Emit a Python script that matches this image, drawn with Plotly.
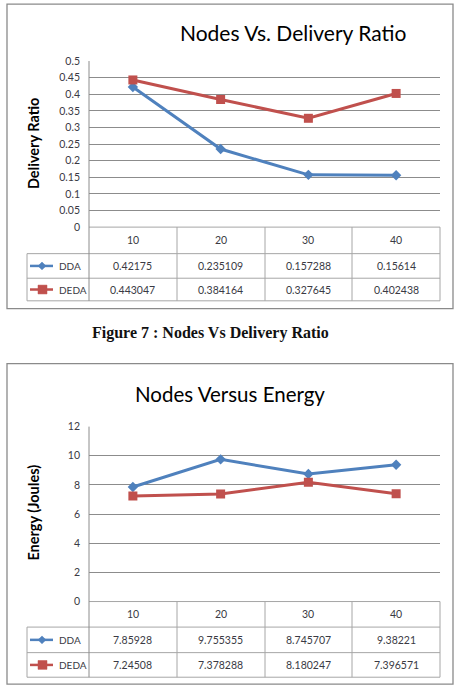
import plotly.graph_objects as go

# ---------------- data ----------------
categories = ["10", "20", "30", "40"]
series_names = ["DDA", "DEDA"]

delivery_dda = [0.42175, 0.235109, 0.157288, 0.15614]
delivery_deda = [0.443047, 0.384164, 0.327645, 0.402438]

energy_dda = [7.85928, 9.755355, 8.745707, 9.38221]
energy_deda = [7.24508, 7.378288, 8.180247, 7.396571]

title_top = "Nodes Vs. Delivery Ratio"
title_bottom = "Nodes Versus Energy"
ytitle_top = "Delivery Ratio"
ytitle_bottom = "Energy (Joules)"
caption = "Figure 7 : Nodes Vs Delivery Ratio"

yticks_top = [0, 0.05, 0.1, 0.15, 0.2, 0.25, 0.3, 0.35, 0.4, 0.45, 0.5]
yticks_bottom = [0, 2, 4, 6, 8, 10, 12]

# ---------------- layout helpers ----------------
W, H = 459, 695
BLUE = "#4F81BD"
RED = "#C0504D"
GRID = "#8c8c8c"
TBL = "#a6a6a6"
FONT = "Lato"
TXT = "#3a3a44"


def X(px):
    return px / W


def Y(py):
    return 1 - py / H


fig = go.Figure()

# chart data traces
fig.add_trace(go.Scatter(x=categories, y=delivery_dda, name=series_names[0], mode="lines+markers",
                         line=dict(color=BLUE, width=3), marker=dict(symbol="diamond", size=8, color=BLUE),
                         xaxis="x", yaxis="y", showlegend=False))
fig.add_trace(go.Scatter(x=categories, y=delivery_deda, name=series_names[1], mode="lines+markers",
                         line=dict(color=RED, width=3), marker=dict(symbol="square", size=9, color=RED),
                         xaxis="x", yaxis="y", showlegend=False))
fig.add_trace(go.Scatter(x=categories, y=energy_dda, name=series_names[0], mode="lines+markers",
                         line=dict(color=BLUE, width=3), marker=dict(symbol="diamond", size=8, color=BLUE),
                         xaxis="x2", yaxis="y2", showlegend=False))
fig.add_trace(go.Scatter(x=categories, y=energy_deda, name=series_names[1], mode="lines+markers",
                         line=dict(color=RED, width=3), marker=dict(symbol="square", size=9, color=RED),
                         xaxis="x2", yaxis="y2", showlegend=False))

PL, PR = 89, 440
panels = [
    dict(ax="x", ay="y", top=56, bot=225, rows=(252, 277, 300), box=(7, -2, 453, 308),
         title=title_top, title_size=21, title_pos=(293, 27), ytitle=ytitle_top, ytitle_pos=(33.5, 140),
         vals=(delivery_dda, delivery_deda)),
    dict(ax="x2", ay="y2", top=428, bot=606, rows=(632, 658, 683), box=(7, 364, 453, 690),
         title=title_bottom, title_size=20.5, title_pos=(230, 395), ytitle=ytitle_bottom, ytitle_pos=(33.5, 516),
         vals=(energy_dda, energy_deda)),
]

shapes = []
annotations = []
col_edges = [89, 177, 265, 352, 440]


def hline(x0, x1, y, color=TBL, w=1):
    shapes.append(dict(type="line", xref="paper", yref="paper", x0=X(x0), x1=X(x1), y0=Y(y), y1=Y(y),
                       line=dict(color=color, width=w)))


def vline(x, y0, y1, color=TBL, w=1):
    shapes.append(dict(type="line", xref="paper", yref="paper", x0=X(x), x1=X(x), y0=Y(y0), y1=Y(y1),
                       line=dict(color=color, width=w)))


for p in panels:
    bx0, by0, bx1, by1 = p["box"]
    shapes.append(dict(type="rect", xref="paper", yref="paper", x0=X(bx0), x1=X(bx1), y0=Y(by0), y1=Y(by1),
                       line=dict(color="#8a8a8a", width=1.3), fillcolor="rgba(0,0,0,0)", layer="below"))
    r0, r1, r2 = p["rows"]
    # table grid
    hline(PL, PR, p["bot"])
    hline(27, PR, r0)
    hline(27, PR, r1)
    hline(27, PR, r2)
    vline(27, r0, r2)
    vline(PL, p["top"], r2, color=GRID)
    for cx in col_edges[1:]:
        vline(cx, p["bot"], r2)
    # titles
    tx, ty = p["title_pos"]
    annotations.append(dict(xref="paper", yref="paper", x=X(tx), y=Y(ty), text=p["title"], showarrow=False,
                            xanchor="center", yanchor="middle",
                            font=dict(family=FONT, size=p["title_size"], color="#000")))
    yx, yy = p["ytitle_pos"]
    annotations.append(dict(xref="paper", yref="paper", x=X(yx), y=Y(yy), text="<b>" + p["ytitle"] + "</b>",
                            showarrow=False, textangle=-90, xanchor="center", yanchor="middle",
                            font=dict(family=FONT, size=14.5, color="#000")))
    # category row (positions by category index on the category axis)
    cat_mid = (p["bot"] + r0) / 2
    for i, c in enumerate(categories):
        annotations.append(dict(xref=p["ax"], yref="paper", x=i, y=Y(cat_mid), text=c, showarrow=False,
                                xanchor="center", yanchor="middle", font=dict(family=FONT, size=10.5, color=TXT)))
    # value rows
    row_mids = [(r0 + r1) / 2, (r1 + r2) / 2]
    for si, (name, vals, col, sym) in enumerate(zip(series_names, p["vals"], [BLUE, RED], ["d", "s"])):
        ym = row_mids[si]
        for i, v in enumerate(vals):
            annotations.append(dict(xref=p["ax"], yref="paper", x=i, y=Y(ym), text=str(v), showarrow=False,
                                    xanchor="center", yanchor="middle",
                                    font=dict(family=FONT, size=10.5, color=TXT)))
        # legend key
        hline(30, 53, ym, color=col, w=2.5)
        if sym == "d":
            path = "M {} {} L {} {} L {} {} L {} {} Z".format(X(42), Y(ym - 4), X(46), Y(ym), X(42), Y(ym + 4),
                                                            X(38), Y(ym))
        else:
            path = "M {} {} L {} {} L {} {} L {} {} Z".format(X(38), Y(ym - 4.5), X(47), Y(ym - 4.5), X(47),
                                                            Y(ym + 4.5), X(38), Y(ym + 4.5))
        shapes.append(dict(type="path", xref="paper", yref="paper", path=path, fillcolor=col,
                           line=dict(color=col, width=0.5)))
        annotations.append(dict(xref="paper", yref="paper", x=X(57), y=Y(ym), text=name, showarrow=False,
                                xanchor="left", yanchor="middle", font=dict(family=FONT, size=10, color=TXT)))

annotations.append(dict(xref="paper", yref="paper", x=X(210), y=Y(333), text="<b>" + caption + "</b>",
                        showarrow=False, xanchor="center", yanchor="middle",
                        font=dict(family="Liberation Serif", size=16, color="#111")))

axis_common = dict(showgrid=False, zeroline=False, showline=False, ticks="", showticklabels=False,
                   type="category", range=[-0.5, 3.5], fixedrange=True)
yaxis_common = dict(showgrid=True, gridcolor=GRID, gridwidth=1, zeroline=False, showline=False, ticks="",
                    tickfont=dict(family=FONT, size=10.5, color=TXT), ticklabelstandoff=8, fixedrange=True)

fig.update_layout(
    width=W, height=H, autosize=False,
    margin=dict(l=0, r=0, t=0, b=0),
    paper_bgcolor="white", plot_bgcolor="rgba(0,0,0,0)",
    xaxis=dict(domain=[X(PL), X(PR)], anchor="y", **axis_common),
    yaxis=dict(domain=[Y(225), Y(56)], anchor="x", range=[0, 0.5], tickvals=yticks_top,
               ticktext=[("%g" % t) for t in yticks_top], **yaxis_common),
    xaxis2=dict(domain=[X(PL), X(PR)], anchor="y2", **axis_common),
    yaxis2=dict(domain=[Y(606), Y(428)], anchor="x2", range=[0, 12], tickvals=yticks_bottom,
                ticktext=[str(t) for t in yticks_bottom], **yaxis_common),
    shapes=shapes,
    annotations=annotations,
    showlegend=False,
)

fig.write_html("out.html")
